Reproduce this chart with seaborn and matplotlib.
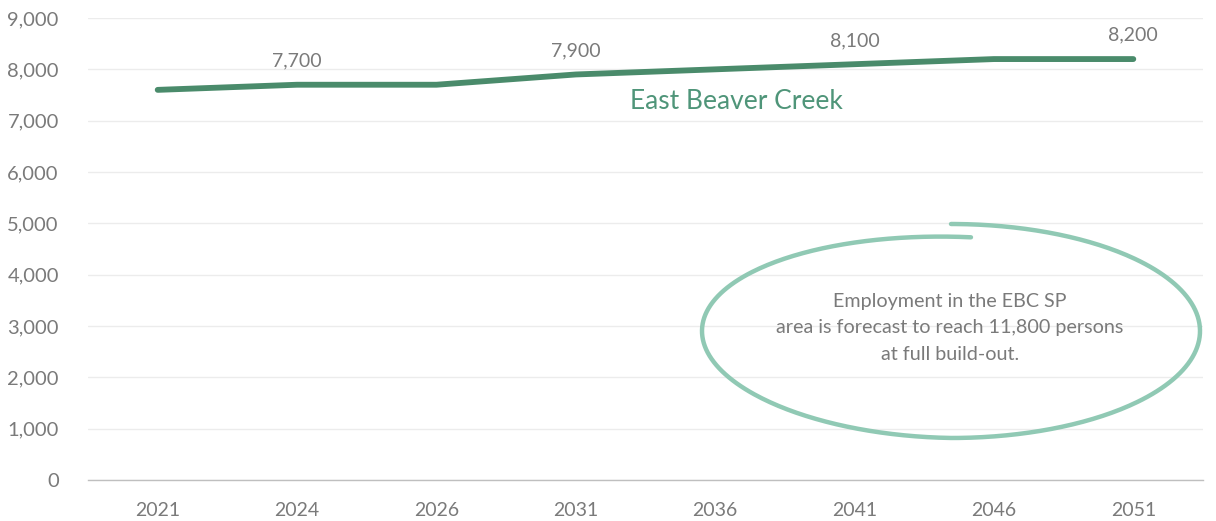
import numpy as np
import pandas as pd
import matplotlib
matplotlib.use("Agg")
import matplotlib.pyplot as plt
import seaborn as sns

# Employment forecast, East Beaver Creek
years = ["2021", "2024", "2026", "2031", "2036", "2041", "2046", "2051"]
employment = [7600, 7700, 7700, 7900, 8000, 8100, 8200, 8200]
labelled_years = ["2024", "2031", "2041", "2051"]
y_ticks = [0, 1000, 2000, 3000, 4000, 5000, 6000, 7000, 8000, 9000]
series_name = "East Beaver Creek"
note_lines = ["Employment in the EBC SP",
              "area is forecast to reach 11,800 persons",
              "at full build-out."]

sns.set_theme(style="white")
plt.rcParams["font.family"] = ["Lato", "DejaVu Sans"]

LINE = "#4a8b6b"
NAME = "#4f9579"
RING = "#90c9b4"
GREY = "#7a7a7a"
GRID = "#ececec"
AXIS = "#bfbfbf"

df = pd.DataFrame({"year": years, "employment": employment})
df["pos"] = np.arange(len(years))

fig = plt.figure(figsize=(12.16, 5.21), dpi=100)
ax = fig.add_axes([88 / 1216, 41 / 521, (1203 - 88) / 1216, (480 - 18) / 521])

sns.lineplot(data=df, x="pos", y="employment", ax=ax, color=LINE,
             linewidth=4.2, solid_capstyle="round", zorder=3)

ax.set_xlim(-0.5, len(years) - 0.5)
ax.set_ylim(0, 9000)
ax.set_yticks(y_ticks)
ax.set_yticklabels([f"{v:,}" for v in y_ticks])
ax.set_xticks(df["pos"])
ax.set_xticklabels(years)
ax.set_xticks(np.arange(-0.5, len(years)), minor=True)
ax.tick_params(axis="x", which="major", length=0, pad=16, labelsize=14, labelcolor=GREY)
ax.tick_params(axis="x", which="minor", length=6, width=1, color=AXIS, direction="out")
ax.tick_params(axis="y", length=0, pad=21, labelsize=14.5, labelcolor=GREY)
ax.set_xlabel("")
ax.set_ylabel("")

ax.grid(axis="y", color=GRID, linewidth=1)
ax.set_axisbelow(True)
for side in ("left", "right", "top"):
    ax.spines[side].set_visible(False)
ax.spines["bottom"].set_color(AXIS)
ax.spines["bottom"].set_linewidth(1)

# Value labels above selected points
for _, row in df[df["year"].isin(labelled_years)].iterrows():
    ax.annotate(f"{row['employment']:,}", (row["pos"], row["employment"]),
                xytext=(0, 11), textcoords="offset points", ha="center",
                va="bottom", fontsize=14, color=GREY)

# Series name under the line
ax.text(4.15, 7380, series_name, ha="center", va="center", fontsize=19, color=NAME)

# Hand-drawn style ring around the note, in figure pixel space
theta = np.radians(np.linspace(85.4, 450, 400))
grow = np.clip((theta - np.radians(85.4)) / np.radians(185), 0, 1)
b = 94 + 13 * grow
cx, cy, a = 951, 331, 249
px = cx + a * np.cos(theta)
py = cy - b * np.sin(theta)
fig.add_artist(plt.Line2D(px / 1216, 1 - py / 521, transform=fig.transFigure,
                          color=RING, linewidth=3.2, solid_capstyle="round"))

for i, line in enumerate(note_lines):
    fig.text(950 / 1216, 1 - (301 + 27 * i) / 521, line, ha="center", va="center",
             fontsize=14.2, color=GREY)

fig.savefig("out.png", dpi=100)
